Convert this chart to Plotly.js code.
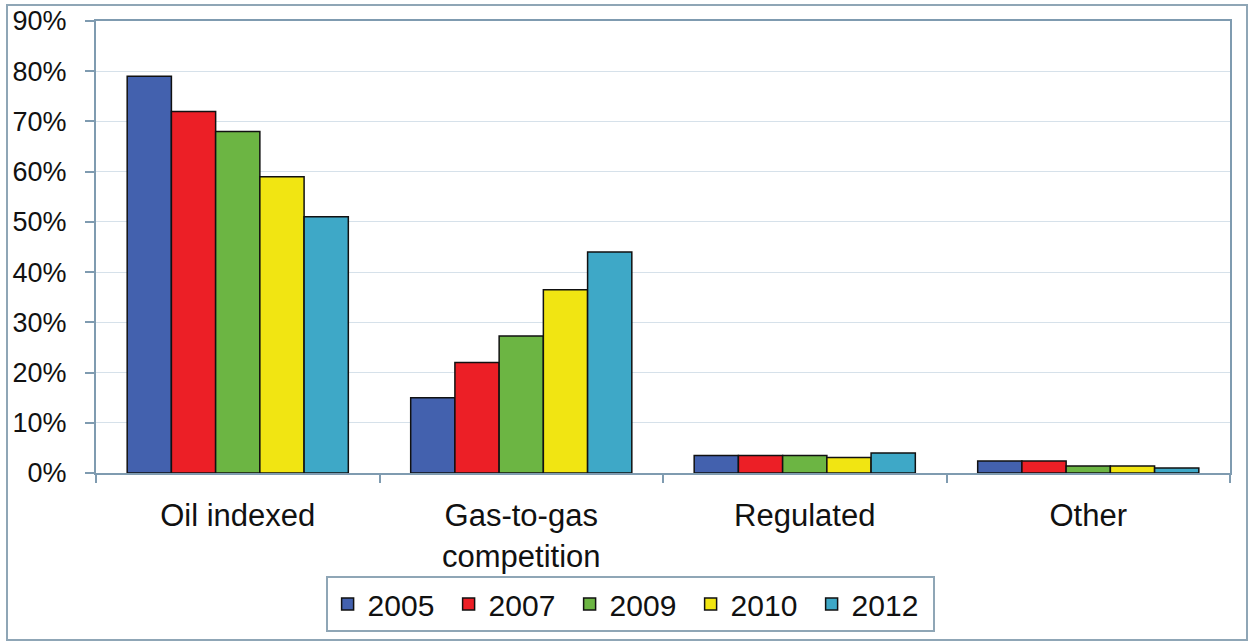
<!DOCTYPE html>
<html>
<head>
<meta charset="utf-8">
<script src="https://cdn.plot.ly/plotly-3.0.1.min.js"></script>
<style>
  html, body { margin: 0; padding: 0; background: #ffffff; }
  #wrap { position: relative; width: 1251px; height: 644px; }
  #chart { position: absolute; left: 0; top: 0; width: 1251px; height: 644px; }
  #frame { position: absolute; left: 6px; top: 4px; width: 1238px; height: 633px;
           border: 2px solid #8fa6b6; pointer-events: none; }
</style>
</head>
<body>
<div id="wrap">
  <div id="chart"></div>
  <div id="frame"></div>
</div>
<script>
// Categories (x axis)
const categories = ["Oil indexed", "Gas-to-gas<br>competition", "Regulated", "Other"];
// Series names (legend)
const years = ["2005", "2007", "2009", "2010", "2012"];
// Share of pricing mechanism, %
const v2005 = [79, 15, 3.5, 2.4];
const v2007 = [72, 22, 3.5, 2.4];
const v2009 = [68, 27.3, 3.5, 1.4];
const v2010 = [59, 36.5, 3.1, 1.4];
const v2012 = [51, 44, 4, 1.0];
// Y ticks and their labels
const yTicks = [0, 10, 20, 30, 40, 50, 60, 70, 80, 90];
const yTickLabels = ["0%", "10%", "20%", "30%", "40%", "50%", "60%", "70%", "80%", "90%"];

const seriesValues = [v2005, v2007, v2009, v2010, v2012];
const colors = ["#4361ae", "#ec1f26", "#6cb543", "#f1e512", "#3ea8c7"];

const traces = years.map((y, i) => ({
  type: "bar",
  name: y,
  x: categories,
  y: seriesValues[i],
  marker: { color: colors[i], line: { color: "#111111", width: 1.5 } },
  hoverinfo: "x+y+name"
}));

const axisColor = "#7f9bb0";
const layout = {
  width: 1251,
  height: 644,
  margin: { l: 96, r: 21, t: 21, b: 166 },
  paper_bgcolor: "#ffffff",
  plot_bgcolor: "#ffffff",
  barmode: "group",
  bargap: 0.22,
  bargroupgap: 0,
  font: { family: "Liberation Sans, Arial, sans-serif", color: "#111111" },
  xaxis: {
    type: "category",
    showline: true, linecolor: axisColor, linewidth: 2, mirror: true,
    ticks: "outside", tickson: "boundaries", ticklen: 8, tickcolor: axisColor, tickwidth: 1.5,
    ticklabelstandoff: 14,
    tickfont: { size: 31, family: "Liberation Sans, Arial, sans-serif", color: "#111111" },
    showgrid: false, zeroline: false
  },
  yaxis: {
    range: [0, 90],
    tickmode: "array",
    tickvals: yTicks,
    ticktext: yTickLabels,
    showline: true, linecolor: axisColor, linewidth: 2, mirror: true,
    ticks: "outside", ticklen: 9, tickcolor: axisColor, tickwidth: 1.5,
    ticklabelstandoff: 13,
    tickfont: { size: 27, family: "Liberation Sans, Arial, sans-serif", color: "#111111" },
    showgrid: true, gridcolor: "#d6e1ea", gridwidth: 1,
    zeroline: false
  },
  showlegend: true,
  legend: {
    orientation: "h",
    x: 0.471, xanchor: "center",
    y: -0.228, yanchor: "top",
    bordercolor: "#8fa6b6", borderwidth: 2,
    bgcolor: "#ffffff",
    font: { size: 30, family: "Liberation Sans, Arial, sans-serif", color: "#111111" },
    itemwidth: 30,
    entrywidth: 76,
    entrywidthmode: "pixels",
    traceorder: "normal"
  }
};

Plotly.newPlot("chart", traces, layout, { displayModeBar: false, staticPlot: false });
</script>
</body>
</html>
